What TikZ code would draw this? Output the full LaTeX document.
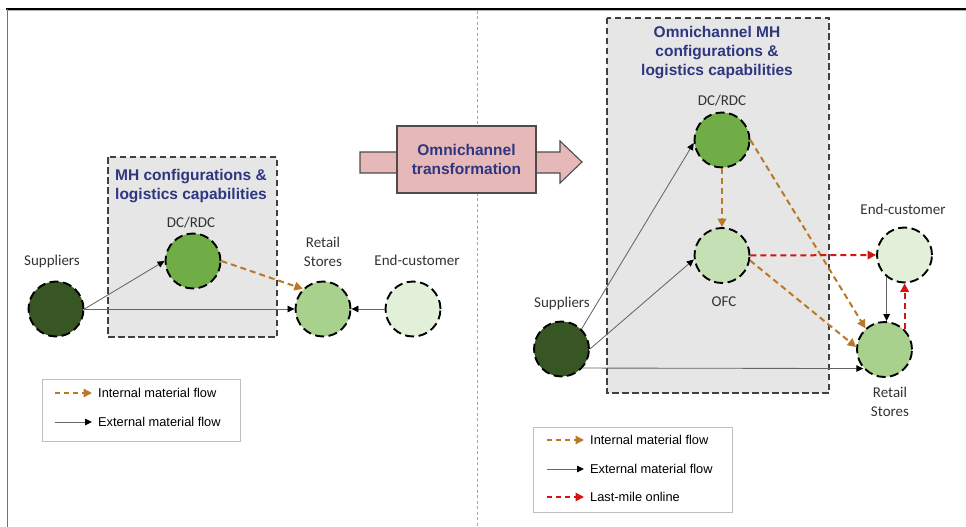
\documentclass[tikz,border=0pt]{standalone}
\usepackage{fontspec}
\setmainfont{Carlito}
\newfontfamily\arialfont{Liberation Sans}
\usepackage{tikz}
\usetikzlibrary{arrows.meta}

\definecolor{supgreen}{RGB}{55,86,35}
\definecolor{dcgreen}{RGB}{112,173,71}
\definecolor{ofcgreen}{RGB}{197,224,180}
\definecolor{retgreen}{RGB}{169,209,142}
\definecolor{endgreen}{RGB}{226,240,217}
\definecolor{titleblue}{RGB}{46,54,128}
\definecolor{boxgray}{RGB}{230,230,230}
\definecolor{transpink}{RGB}{230,185,184}
\definecolor{flowbrown}{RGB}{184,122,38}
\definecolor{lmred}{RGB}{210,20,20}

\begin{document}
\begin{tikzpicture}[
    x=1pt, y=-1pt,      % coordenadas en pixeles de la figura
    site/.style={circle, minimum size=55pt, inner sep=0pt, draw=black,
        line width=1.9pt, dash pattern=on 9pt off 4.5pt},
    lbl/.style={font=\fontsize{15}{18.5}\selectfont, align=center,
        text=black!80, inner sep=0pt},
    ttl/.style={font=\arialfont\bfseries\fontsize{15.5}{19}\selectfont,
        text=titleblue, align=center, inner sep=0pt},
    mhbox/.style={fill=boxgray, draw=black!75, line width=1.4pt,
        dash pattern=on 6.5pt off 3.5pt},
    ext/.style={draw=black!60, line width=0.85pt,
        -{Triangle[length=7pt, width=6.5pt, color=black]}},
    int/.style={draw=flowbrown, line width=2pt, dash pattern=on 6pt off 4pt,
        -{Triangle[length=8.5pt, width=8.5pt]}},
    lastmile/.style={draw=lmred, line width=2pt, dash pattern=on 6pt off 4pt,
        -{Triangle[length=8.5pt, width=8.5pt]}},
    legbox/.style={draw=black!25, line width=0.9pt},
    legtxt/.style={font=\arialfont\fontsize{12.8}{15}\selectfont,
        anchor=west, inner sep=0pt},
]
\useasboundingbox (0,0) rectangle (966,527);

% --- Marco ---
\draw[black, line width=1.4pt] (6,9) -- (966,9);
\draw[black!30, line width=0.8pt] (8,10.7) -- (966,10.7);
\draw[black!55, line width=1.9pt] (7.5,9) -- (7.5,527);
% divisor
\draw[black!35, line width=0.9pt, dash pattern=on 3pt off 2.5pt] (477,11) -- (477,527);

% --- Situacion actual (izquierda) ---
\draw[mhbox] (108,157) rectangle (277,337);
\node[ttl] (ttlA) at (191,186) {MH configurations \&\\logistics capabilities};

\node[site, fill=supgreen] (supA) at (56,309) {};
\node[site, fill=dcgreen]  (dcA)  at (193,261) {};
\node[site, fill=retgreen] (retA) at (323,309) {};
\node[site, fill=endgreen] (endA) at (413,309) {};

\node[lbl] (supAl) at (52,261)  {Suppliers};
\node[lbl] (dcAl)  at (191,223) {DC/RDC};
\node[lbl] (retAl) at (323,252) {Retail\\Stores};
\node[lbl] (endAl) at (417,260) {End-customer};

\draw[ext] (supA.east) -- (dcA.west);
\draw[ext] (supA.east) -- (retA.west);
\draw[int] (dcA.east) -- (retA.north west);
\draw[ext] (endA.west) -- (retA.east);

% leyenda
\draw[legbox] (42,379) rectangle (240,441);
\node[legtxt] (legAint) at (98,393) {Internal material flow};
\node[legtxt] (legAext) at (98,422) {External material flow};
\draw[int, line width=1.6pt, dash pattern=on 5pt off 4pt]
    ([xshift=-43pt]legAint.west) -- ([xshift=-6pt]legAint.west);
\draw[ext] ([xshift=-43pt]legAext.west) -- ([xshift=-6pt]legAext.west);

% --- Flecha de transformacion ---
\draw[fill=transpink, draw=black!70, line width=1.1pt]
    (360,152) -- (560,152) -- (560,141) -- (582,162) -- (560,183)
    -- (560,173) -- (360,173) -- cycle;
\node[ttl, fill=transpink, draw=black!70, line width=1.1pt,
    minimum width=139pt, minimum height=67pt] (trans) at (466.5,159.5)
    {Omnichannel\\transformation};

% --- Situacion omnicanal (derecha) ---
\draw[mhbox] (607,18) rectangle (829,393);
\node[ttl] (ttlB) at (717,53) {Omnichannel MH\\configurations \&\\logistics capabilities};

\node[site, fill=supgreen] (supB) at (561.5,349) {};
\node[site, fill=dcgreen]  (dcB)  at (722,140) {};
\node[site, fill=ofcgreen] (ofcB) at (722,255.5) {};
\node[site, fill=endgreen] (endB) at (904.5,255) {};
\node[site, fill=retgreen] (retB) at (884.5,349.5) {};

\node[lbl] (dcBl)  at (722,101) {DC/RDC};
\node[lbl] (ofcBl) at (724,302) {OFC};
\node[lbl] (supBl) at (562,303) {Suppliers};
\node[lbl] (endBl) at (903,209) {End-customer};
\node[lbl] (retBl) at (890,402) {Retail\\Stores};

\draw[ext] (supB.45) -- (dcB.186);
\draw[ext] (supB.east) -- (ofcB.188);
\draw[ext] (supB.-42) -- (retB.222);
\draw[int] (dcB.south) -- (ofcB.north);
\draw[int] (dcB.east) -- (retB.132);
\draw[int] (ofcB.-10) -- (retB.175);
\draw[lastmile] (ofcB.east) -- (endB.west);
\draw[ext] (endB.231) -- (endB.231 |- retB.north);
\draw[lastmile] (retB.45) -- (retB.45 |- endB.south);

% leyenda
\draw[legbox] (533,427) rectangle (732,512);
\node[legtxt] (legBint) at (590,440) {Internal material flow};
\node[legtxt] (legBext) at (590,469) {External material flow};
\node[legtxt] (legBlm)  at (590,497) {Last-mile online};
\draw[int, line width=1.6pt, dash pattern=on 5pt off 4pt]
    ([xshift=-43pt]legBint.west) -- ([xshift=-6pt]legBint.west);
\draw[ext] ([xshift=-43pt]legBext.west) -- ([xshift=-6pt]legBext.west);
\draw[lastmile, line width=1.6pt, dash pattern=on 5pt off 4pt]
    ([xshift=-43pt]legBlm.west) -- ([xshift=-6pt]legBlm.west);

\end{tikzpicture}
\end{document}
